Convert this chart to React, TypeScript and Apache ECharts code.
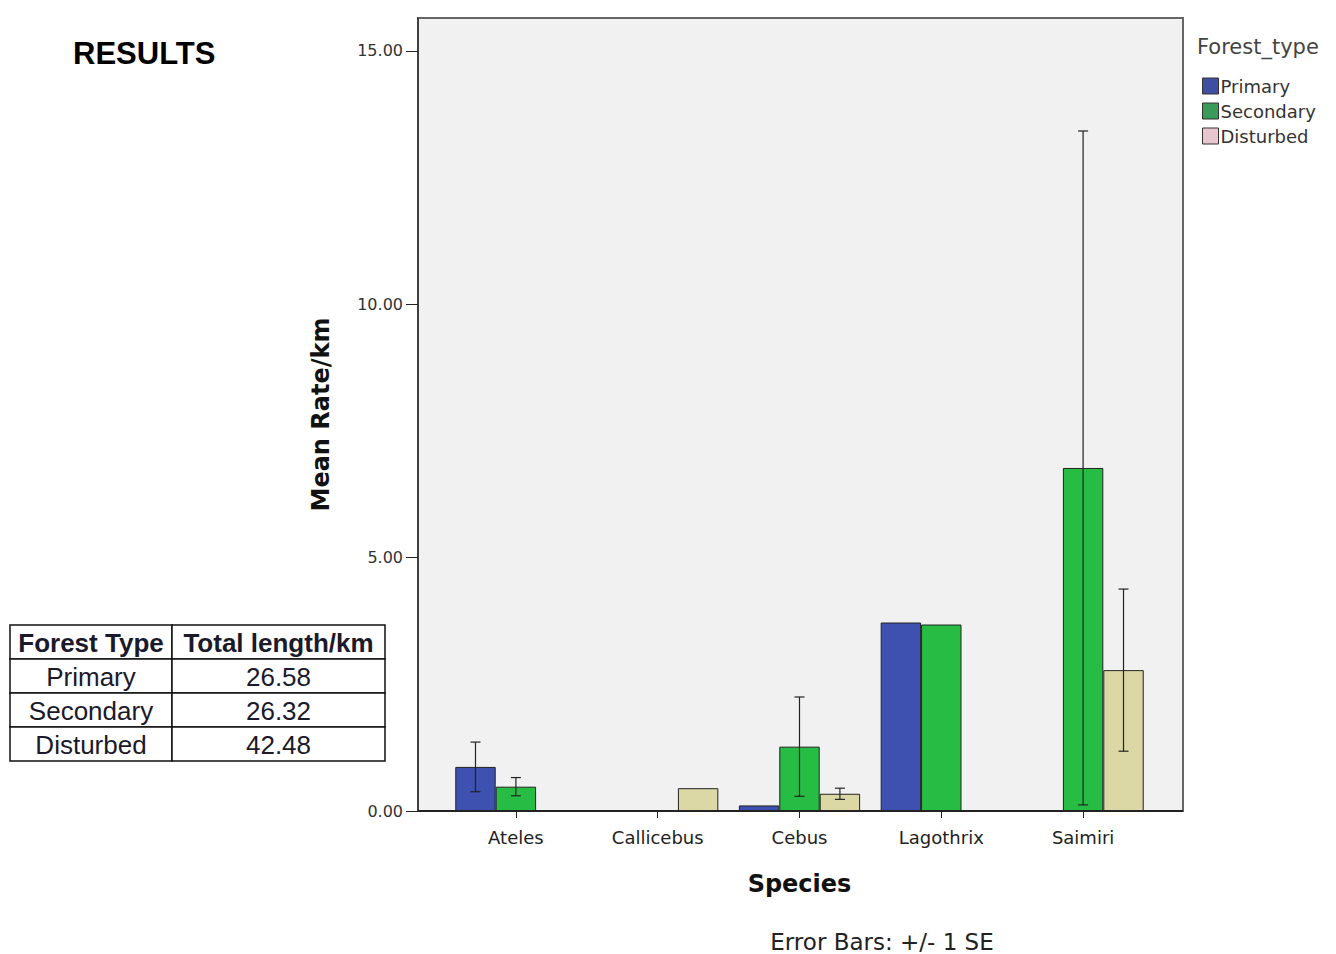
import React, { useEffect, useRef } from "react";
import * as echarts from "echarts";

const species = ["Ateles", "Callicebus", "Cebus", "Lagothrix", "Saimiri"];
const forestTypes = ["Primary", "Secondary", "Disturbed"];
const primaryMean = [0.87, null, 0.11, 3.72, null];
const secondaryMean = [0.48, null, 1.27, 3.68, 6.77];
const disturbedMean = [null, 0.45, 0.34, null, 2.78];
const primarySE = [0.49, null, null, null, null];
const secondarySE = [0.18, null, 0.98, null, 6.65];
const disturbedSE = [null, null, 0.11, null, 1.6];
const yTicks = [0, 5, 10, 15];
const tableHeader = ["Forest Type", "Total length/km"];
const tableLengths = ["26.58", "26.32", "42.48"];

const barColors = ["#3e50b0", "#27bd45", "#dcd8a6"];
const legendColors = ["#3f4f9f", "#3a9a5a", "#e8c6d0"];
const GAP = 0.145;
const SANS = "'DejaVu Sans', Verdana, sans-serif";
const ARIAL = "'Liberation Sans', Arial, sans-serif";

export default function App() {
  const ref = useRef<HTMLDivElement>(null);
  useEffect(() => {
    if (!ref.current) return;
    const chart = echarts.init(ref.current, null, { renderer: "svg" });
    const means = [primaryMean, secondaryMean, disturbedMean];
    const ses = [primarySE, secondarySE, disturbedSE];

    const barSeries = forestTypes.map((name, k) => ({
      name,
      type: "bar",
      data: means[k],
      barGap: "0%",
      barCategoryGap: (GAP * 100).toFixed(1) + "%",
      itemStyle: { color: barColors[k], borderColor: "#222", borderWidth: 1 },
      z: 2,
    }));

    const errSeries = forestTypes.map((name, k) => ({
      type: "custom",
      name: name + " SE",
      z: 5,
      data: means[k]
        .map((m, i) => (m != null && ses[k][i] != null ? [i, m, ses[k][i]] : null))
        .filter((d) => d !== null),
      renderItem: (params: any, api: any) => {
        const ci = api.value(0);
        const m = api.value(1);
        const se = api.value(2);
        const band = api.size([1, 0])[0];
        const bw = (band * (1 - GAP)) / 3;
        const off = (k - 1) * bw;
        const top = api.coord([ci, m + se]);
        const bot = api.coord([ci, Math.max(m - se, 0)]);
        const x = top[0] + off;
        const cap = 5;
        const style = { stroke: "#222", lineWidth: 1.2 };
        return {
          type: "group",
          children: [
            { type: "line", shape: { x1: x, y1: top[1], x2: x, y2: bot[1] }, style },
            { type: "line", shape: { x1: x - cap, y1: top[1], x2: x + cap, y2: top[1] }, style },
            { type: "line", shape: { x1: x - cap, y1: bot[1], x2: x + cap, y2: bot[1] }, style },
          ],
        };
      },
    }));

    const tX = 10, tY = 625, colW = [162, 213], rowH = 34;
    const tableEls: any[] = [];
    const rows = [tableHeader, ...forestTypes.map((f, i) => [f, tableLengths[i]])];
    rows.forEach((row, r) => {
      let cx = tX;
      row.forEach((cell, c) => {
        tableEls.push({
          type: "rect",
          shape: { x: cx, y: tY + r * rowH, width: colW[c], height: rowH },
          style: { fill: "#fff", stroke: "#111", lineWidth: 1.5 },
        });
        tableEls.push({
          type: "text",
          x: cx + colW[c] / 2,
          y: tY + r * rowH + rowH / 2 + 1,
          style: {
            text: cell,
            fill: "#1a1a2a",
            font: (r === 0 ? "bold " : "") + "26px " + ARIAL,
            align: "center",
            verticalAlign: "middle",
          },
        });
        cx += colW[c];
      });
    });

    chart.setOption({
      animation: false,
      backgroundColor: "#ffffff",
      grid: { left: 445, right: 182, top: 18, bottom: 143 },
      legend: {
        orient: "vertical",
        left: 1197,
        top: 72,
        itemWidth: 16,
        itemHeight: 16,
        itemGap: 7,
        icon: "rect",
        textStyle: { fontSize: 18, color: "#333", fontFamily: SANS, padding: [0, 0, 0, -3] },
        data: forestTypes.map((n, k) => ({
          name: n,
          itemStyle: { color: legendColors[k], borderColor: "#333", borderWidth: 1 },
        })),
      },
      xAxis: {
        type: "category",
        data: species,
        axisLine: { show: false },
        axisTick: { show: true, alignWithLabel: true, length: 7, lineStyle: { color: "#222" } },
        axisLabel: { fontSize: 18, color: "#222", margin: 17, fontFamily: SANS },
        name: "Species",
        nameLocation: "middle",
        nameGap: 61,
        nameTextStyle: { fontSize: 24, fontWeight: "bold", color: "#111", fontFamily: SANS },
      },
      yAxis: {
        type: "value",
        min: 0,
        max: 15.65,
        interval: 5,
        offset: 27,
        axisLine: { show: true, lineStyle: { color: "#333", width: 1.5 } },
        axisTick: { show: true, length: 12, lineStyle: { color: "#222" } },
        axisLabel: {
          fontSize: 16,
          color: "#333",
          margin: 15,
          showMaxLabel: false,
          fontFamily: SANS,
          formatter: (v: number) => (yTicks.includes(v) ? v.toFixed(2) : ""),
        },
        splitLine: { show: false },
        name: "Mean Rate/km",
        nameLocation: "middle",
        nameGap: 85,
        nameTextStyle: { fontSize: 24, fontWeight: "bold", color: "#111", fontFamily: SANS },
      },
      graphic: [
        {
          type: "rect",
          z: -10,
          shape: { x: 418, y: 18, width: 765, height: 793 },
          style: { fill: "#f1f1f1", stroke: "#666", lineWidth: 2 },
        },
        {
          type: "line",
          z: 10,
          shape: { x1: 418, y1: 811, x2: 1183, y2: 811 },
          style: { stroke: "#222", lineWidth: 2 },
        },
        {
          type: "text",
          x: 73,
          y: 53,
          style: { text: "RESULTS", fill: "#000", font: "bold 31px " + ARIAL, verticalAlign: "middle" },
        },
        {
          type: "text",
          x: 1197,
          y: 47,
          style: { text: "Forest_type", fill: "#444", font: "21px " + SANS, verticalAlign: "middle" },
        },
        {
          type: "text",
          x: 882,
          y: 942,
          style: { text: "Error Bars: +/- 1 SE", fill: "#222", font: "23px " + SANS, align: "center", verticalAlign: "middle" },
        },
        ...tableEls,
      ],
      series: [...barSeries, ...errSeries],
    });
    return () => chart.dispose();
  }, []);
  return <div ref={ref} style={{ position: "absolute", left: 0, top: 0, width: 1336, height: 954 }} />;
}
